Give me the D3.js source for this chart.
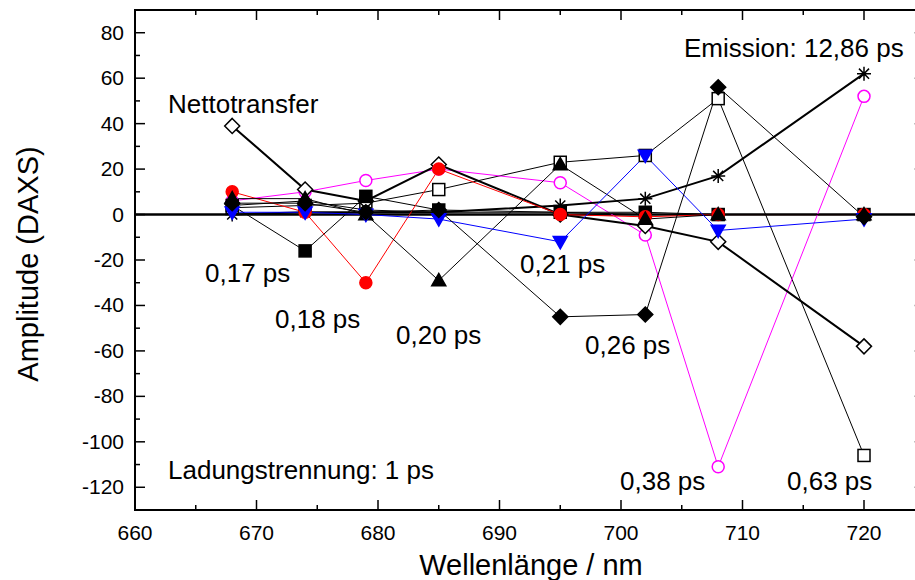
<!DOCTYPE html>
<html><head><meta charset="utf-8">
<script src="https://cdn.jsdelivr.net/npm/d3@7/dist/d3.min.js"></script>
<style>
html,body{margin:0;padding:0;background:#fff;overflow:hidden}
svg{display:block}
text{font-family:"Liberation Sans",Arial,sans-serif;fill:#000}
</style></head>
<body>
<svg id="c" width="915" height="580"></svg>
<script>
// ---- data ----
const wavelengths = [668, 674, 679, 685, 695, 702, 708, 720];
const s017  = [4, -16, 8, 2, 1, 1, 0, 0];          // filled square
const s018  = [10, 1, -30, 20, 0, -1, 0, 0];       // red filled circle
const s020  = [7, 7, 0, -29, 22, -2, 0, 0];        // filled triangle
const s021  = [1, 1, 0, -2, -12, 26, -7, -2];      // blue inverted triangle
const s026  = [5, 5, 1, 2, -45, -44, 56, -1];      // filled diamond
const s038  = [6, 10, 15, 20, 14, -9, -111, 52];   // magenta open circle
const s063  = [3, 4, 5, 11, 23, 26, 51, -106];     // open square
const s1    = [4, 6, 2, 1, 1, 0, 0, 0];            // Ladungstrennung 1 ps
const s1286 = [0, 1, 1, 1, 4, 7, 17, 62];          // Emission asterisk
const netto = [39, 11, 6, 22, 0, -5, -12, -58];    // Nettotransfer open diamond
const xTicks = [660, 670, 680, 690, 700, 710, 720];
const yTicks = [-120, -100, -80, -60, -40, -20, 0, 20, 40, 60, 80];
const annotations = [
  {t:"Emission: 12,86 ps", x:684, y:57},
  {t:"Nettotransfer", x:168, y:113},
  {t:"0,17 ps", x:205, y:282},
  {t:"0,18 ps", x:275, y:328},
  {t:"0,20 ps", x:396, y:344},
  {t:"0,21 ps", x:520, y:273},
  {t:"0,26 ps", x:585, y:354},
  {t:"0,38 ps", x:620, y:490},
  {t:"0,63 ps", x:787, y:490},
  {t:"Ladungstrennung: 1 ps", x:168, y:479}
];

// drawing order (bottom to top)
const series = [
  {v:s063, color:"#000", lw:1, sym:"square", fill:"#fff"},
  {v:s038, color:"#ff00ff", lw:1, sym:"circle", fill:"#fff"},
  {v:s1286,color:"#000", lw:2, sym:"asterisk", fill:"none"},
  {v:netto,color:"#000", lw:2, sym:"diamond", fill:"#fff"},
  {v:s1,   color:"#000", lw:1, sym:"circle", fill:"#000", small:true},
  {v:s017, color:"#000", lw:1, sym:"square", fill:"#000"},
  {v:s018, color:"#ff0000", lw:1, sym:"circle", fill:"#ff0000"},
  {v:s020, color:"#000", lw:1, sym:"triangle", fill:"#000"},
  {v:s021, color:"#0000ff", lw:1, sym:"itriangle", fill:"#0000ff"},
  {v:s026, color:"#000", lw:1, sym:"diamond", fill:"#000"}
];

const svg = d3.select("#c");
const L = 135, T = 10, B = 510;
const x = d3.scaleLinear().domain([660, 725]).range([L, L + 65 * 12.15]);
const y = d3.scaleLinear().domain([-130, 90]).range([B, T]);
const R = x(725);

// zero line
svg.append("line").attr("x1", L).attr("x2", R).attr("y1", y(0)).attr("y2", y(0))
  .attr("stroke", "#000").attr("stroke-width", 2.4);

// lines
const line = d3.line().x((d, i) => x(wavelengths[i])).y(d => y(d));
series.forEach(s => {
  svg.append("path").attr("d", line(s.v)).attr("fill", "none")
    .attr("stroke", s.color).attr("stroke-width", s.lw);
});

// markers
function marker(g, s, cx, cy) {
  const sw = 1.5;
  if (s.sym === "square") {
    const h = 6;
    g.append("rect").attr("x", cx - h).attr("y", cy - h).attr("width", 2*h).attr("height", 2*h)
      .attr("fill", s.fill).attr("stroke", s.color).attr("stroke-width", sw);
  } else if (s.sym === "circle") {
    const r = s.small ? 4.5 : 6;
    g.append("circle").attr("cx", cx).attr("cy", cy).attr("r", r)
      .attr("fill", s.fill).attr("stroke", s.color).attr("stroke-width", sw);
  } else if (s.sym === "triangle") {
    const h = 7;
    g.append("path").attr("d", `M${cx},${cy-h}L${cx+h},${cy+h*0.75}L${cx-h},${cy+h*0.75}Z`)
      .attr("fill", s.fill).attr("stroke", s.color).attr("stroke-width", sw);
  } else if (s.sym === "itriangle") {
    const h = 7;
    g.append("path").attr("d", `M${cx},${cy+h}L${cx+h},${cy-h*0.75}L${cx-h},${cy-h*0.75}Z`)
      .attr("fill", s.fill).attr("stroke", s.color).attr("stroke-width", sw);
  } else if (s.sym === "diamond") {
    const h = 7.5;
    g.append("path").attr("d", `M${cx},${cy-h}L${cx+h},${cy}L${cx},${cy+h}L${cx-h},${cy}Z`)
      .attr("fill", s.fill).attr("stroke", s.color).attr("stroke-width", sw);
  } else if (s.sym === "asterisk") {
    const h = 7, d = h * 0.72;
    g.append("path").attr("d", `M${cx},${cy-h}V${cy+h}M${cx-h},${cy}H${cx+h}M${cx-d},${cy-d}L${cx+d},${cy+d}M${cx-d},${cy+d}L${cx+d},${cy-d}`)
      .attr("stroke", s.color).attr("stroke-width", 1.5).attr("fill", "none");
  }
}
series.forEach(s => {
  const g = svg.append("g");
  s.v.forEach((v, i) => marker(g, s, x(wavelengths[i]), y(v)));
});

// frame
svg.append("rect").attr("x", L).attr("y", T).attr("width", R - L).attr("height", B - T)
  .attr("fill", "none").attr("stroke", "#000").attr("stroke-width", 2);

// ticks (inward)
const tg = svg.append("g").attr("stroke", "#000").attr("stroke-width", 1.5);
d3.range(660, 726, 5).forEach(v => {
  const len = v % 10 === 0 ? 10 : 5;
  tg.append("line").attr("x1", x(v)).attr("x2", x(v)).attr("y1", B).attr("y2", B - len);
  tg.append("line").attr("x1", x(v)).attr("x2", x(v)).attr("y1", T).attr("y2", T + len);
});
d3.range(-130, 91, 10).forEach(v => {
  const len = v % 20 === 0 ? 10 : 5;
  tg.append("line").attr("x1", L).attr("x2", L + len).attr("y1", y(v)).attr("y2", y(v));
  tg.append("line").attr("x1", R).attr("x2", R - len).attr("y1", y(v)).attr("y2", y(v));
});

// tick labels
xTicks.forEach(v => {
  svg.append("text").attr("x", x(v)).attr("y", 540).attr("text-anchor", "middle")
    .attr("font-size", 21).text(v);
});
yTicks.forEach(v => {
  svg.append("text").attr("x", 124).attr("y", y(v) + 7).attr("text-anchor", "end")
    .attr("font-size", 21).text(v);
});

// axis titles
svg.append("text").attr("x", 531).attr("y", 575).attr("text-anchor", "middle")
  .attr("font-size", 29).text("Wellenlänge / nm");
svg.append("text").attr("transform", "translate(38,264) rotate(-90)").attr("text-anchor", "middle")
  .attr("font-size", 29).text("Amplitude (DAXS)");

// annotations
annotations.forEach(a => {
  svg.append("text").attr("x", a.x).attr("y", a.y).attr("font-size", 26).text(a.t);
});
</script>
</body></html>
